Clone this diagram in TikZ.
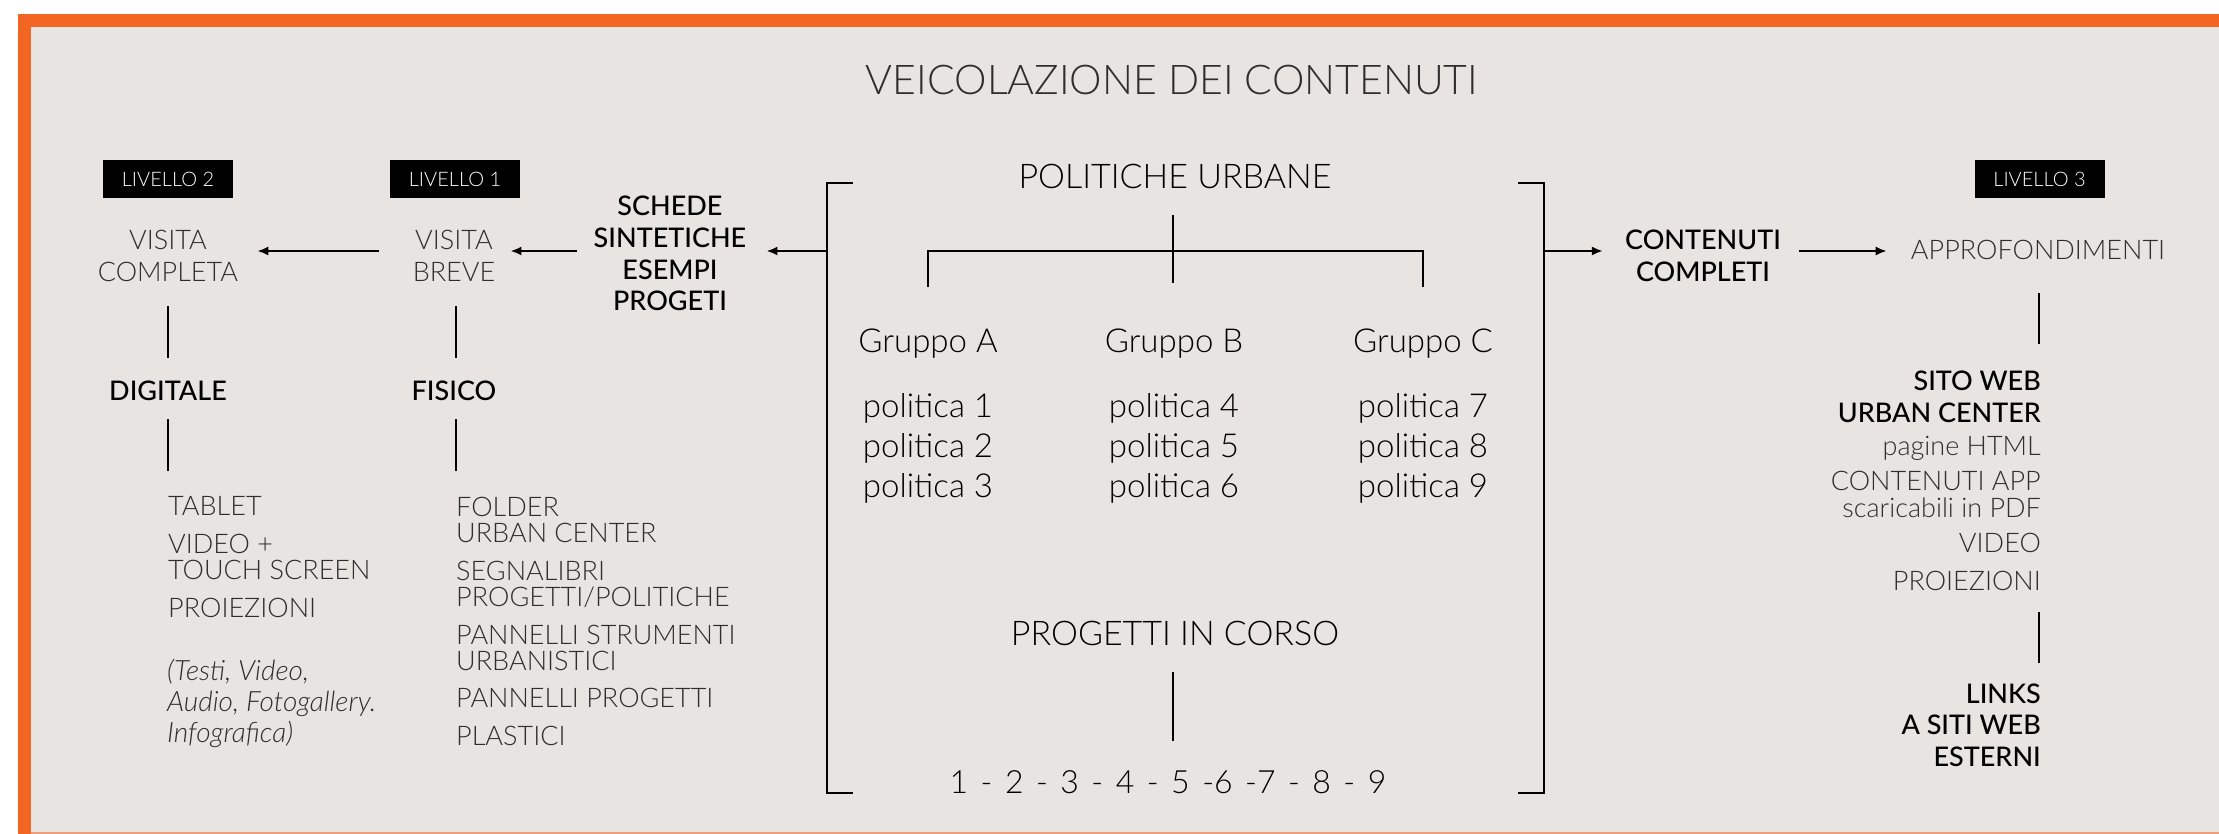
\documentclass[tikz,border=0pt]{standalone}
\usepackage{fontspec}
\newfontfamily\lite{Lato Light}
\newfontfamily\medi{Lato Medium}
\usetikzlibrary{arrows.meta,calc}
\definecolor{brand}{HTML}{F26522}
\definecolor{paper}{HTML}{E7E4E1}
\definecolor{ink}{HTML}{2E2E2E}

\begin{document}
\begin{tikzpicture}[x=1pt,y=-1pt,
    lvltag/.style={fill=black,text=white,minimum width=130pt,minimum height=38pt,inner sep=0pt,font=\lite\fontsize{20}{24}\selectfont},
    softtxt/.style={inner sep=0pt,text=ink,font=\lite\fontsize{27}{26}\selectfont},
    hardtxt/.style={inner sep=0pt,text=black,font=\medi\fontsize{27}{32}\selectfont},
    coretxt/.style={inner sep=0pt,text=black,font=\lite\fontsize{33}{40}\selectfont},
    corehead/.style={inner sep=0pt,text=black,font=\lite\fontsize{34}{40}\selectfont},
    stem/.style={line width=2pt},
    arrowline/.style={line width=2pt,-{Latex[length=11pt,width=9pt]}},
  ]
    \useasboundingbox (0,0) rectangle (2219,834);

    % Frame
    \fill[white] (0,0) rectangle (2219,834);
    \fill[brand] (18,14) rectangle (2219,834);
    \fill[paper] (31,27) rectangle (2219,832);
    \fill[brand!55!paper] (31,832) rectangle (2219,834);

    % Title and levels
    \node[softtxt,font=\lite\fontsize{41}{41}\selectfont,anchor=base] (title) at (1172,95) {VEICOLAZIONE DEI CONTENUTI};
    \node[lvltag] (lv2) at (168,179.5) {LIVELLO 2};
    \node[lvltag] (lv1) at (455,179.5) {LIVELLO 1};
    \node[lvltag] (lv3) at (2039.5,179.5) {LIVELLO 3};

    % Left branch (multi-line nodes sit on their last baseline)
    \node[softtxt,align=center,anchor=base,font=\lite\fontsize{27}{32}\selectfont] (visc) at (168,282) {VISITA\\COMPLETA};
    \node[softtxt,align=center,anchor=base,font=\lite\fontsize{27}{32}\selectfont] (visb) at (454,282) {VISITA\\BREVE};
    \node[hardtxt,align=center,anchor=base,font=\medi\fontsize{27}{31.7}\selectfont] (sched) at (670,311) {SCHEDE\\SINTETICHE\\ESEMPI\\PROGETI};
    \node[hardtxt,anchor=base] (digi) at (168,400) {DIGITALE};
    \node[hardtxt,anchor=base] (fisi) at (454,400) {FISICO};
    \node[softtxt,align=left,anchor=base west] (dlist) at (168,617)
        {TABLET\\[12pt]VIDEO +\\TOUCH SCREEN\\[12pt]PROIEZIONI};
    \node[softtxt,align=left,anchor=base west,font=\lite\itshape\fontsize{28}{31}\selectfont] (dnote) at (167,742)
        {(Testi, Video,\\Audio, Fotogallery.\\Infografica)};
    \node[softtxt,align=left,anchor=base west] (flist) at (456,745)
        {FOLDER\\URBAN CENTER\\[12pt]SEGNALIBRI\\PROGETTI/POLITICHE\\[12pt]PANNELLI STRUMENTI\\URBANISTICI\\[11pt]PANNELLI PROGETTI\\[12pt]PLASTICI};

    % Core block
    \node[inner sep=0pt,minimum width=717pt,minimum height=610pt] (core) at (1185.5,488) {};
    \node[corehead,anchor=base] (pu) at (1175,189) {POLITICHE URBANE};
    \node[coretxt,anchor=base] (grpA) at (928,352) {Gruppo A};
    \node[coretxt,anchor=base] (grpB) at (1174,352) {Gruppo B};
    \node[coretxt,anchor=base] (grpC) at (1423,352) {Gruppo C};
    \node[coretxt,align=center,anchor=base] (polA) at (928,497) {politica 1\\politica 2\\politica 3};
    \node[coretxt,align=center,anchor=base] (polB) at (1174,497) {politica 4\\politica 5\\politica 6};
    \node[coretxt,align=center,anchor=base] (polC) at (1423,497) {politica 7\\politica 8\\politica 9};
    \node[corehead,anchor=base] (pic) at (1175,645) {PROGETTI IN CORSO};
    \node[coretxt,anchor=base,font=\lite\fontsize{32}{40}\selectfont] (nums) at (1168,793)
        {\spaceskip=12.5pt\relax 1 - 2 - 3 - 4 - 5 -6 -7 - 8 - 9};

    % Right branch
    \node[hardtxt,align=center,anchor=base] (cont) at (1703,282) {CONTENUTI\\COMPLETI};
    \node[softtxt,anchor=base] (appro) at (2038,260) {APPROFONDIMENTI};
    \node[hardtxt,align=right,anchor=base east] (sito) at (2041,422) {SITO WEB\\URBAN CENTER};
    \node[softtxt,align=right,anchor=base east,font=\lite\fontsize{27}{27}\selectfont] (slist) at (2041,590)
        {pagine HTML\\[8pt]CONTENUTI APP\\scaricabili in PDF\\[8pt]VIDEO\\[11pt]PROIEZIONI};
    \node[hardtxt,align=right,anchor=base east,font=\medi\fontsize{27}{31.5}\selectfont] (links) at (2041,766) {LINKS\\A SITI WEB\\ESTERNI};

    % Brackets
    \draw[stem] (core.north west) ++(26,0) -- (core.north west) -- (core.south west) -- ++(26,0);
    \draw[stem] (core.north east) ++(-26,0) -- (core.north east) -- (core.south east) -- ++(-26,0);

    % Tree of policies
    \coordinate (fork) at (1173,251);
    \draw[stem] (pu.south) ++(-2,26) -- ++(0,68);
    \draw[stem] (grpA.north) ++(0,-41) |- (fork) -| ($(grpC.north)+(0,-41)$);
    \draw[stem] (pic.south) ++(-2,27) -- ++(0,69);

    % Arrows
    \coordinate (row) at (0,251);
    \draw[arrowline,shorten >=20pt] (core.west |- row) -- (sched.east |- row);
    \draw[arrowline,shorten <=17pt,shorten >=15pt] (sched.west |- row) -- (visb.east |- row);
    \draw[arrowline,shorten <=34pt,shorten >=19pt] (visb.west |- row) -- (visc.east |- row);
    \draw[arrowline,shorten >=22pt] (core.east |- row) -- (cont.west |- row);
    \draw[arrowline,shorten <=18pt,shorten >=24pt] (cont.east |- row) -- (appro.west |- row);

    % Stems
    \draw[stem] (visc.south) ++(0,24) -- ++(0,52);
    \draw[stem] (visb.south) ++(2,24) -- ++(0,52);
    \draw[stem] (digi.south) ++(0,19) -- ++(0,52);
    \draw[stem] (fisi.south) ++(2,19) -- ++(0,52);
    \draw[stem] (appro.south) ++(1,33) -- ++(0,51);
    \draw[stem] (slist.south east) ++(-2,22) -- ++(0,51);
\end{tikzpicture}
\end{document}
